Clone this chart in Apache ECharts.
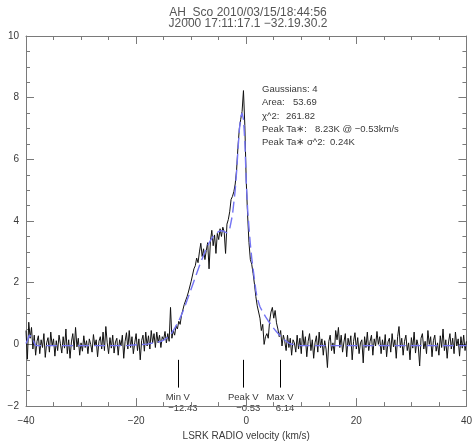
<!DOCTYPE html>
<html>
<head>
<meta charset="utf-8">
<script src="https://cdn.jsdelivr.net/npm/echarts@6/dist/echarts.min.js"></script>
<style>
  html, body { margin: 0; padding: 0; background: #fff; }
  #chart { width: 475px; height: 446px; }
</style>
</head>
<body>
<div id="chart"></div>
<script>
// Header lines above the spectrum
const titleLines = ['AH_Sco 2010/03/15/18:44:56', 'J2000 17:11:17.1 \u221232.19.30.2'];

// Axis ticks
const xTickValues = [-40, -20, 0, 20, 40];
const yTickValues = [-2, 0, 2, 4, 6, 8, 10];
const xAxisTitle = 'LSRK RADIO velocity (km/s)';

// Spectrum: antenna temperature (K) per 0.25 km/s channel, in three runs
const chanWidth = 0.25;
const leftStart = -40;
const leftBaseline = [
  0.45, -0.48, 0.72, 0.20, 0.55, -0.15, 0.30, -0.35, 0.10, 0.28, -0.30, 0.15,
  -0.10, 0.35, -0.42, 0.05, 0.22, -0.25, 0.40, -0.05, 0.18, -0.38, 0.12, -0.20,
  0.30, 0.02, -0.28, 0.25, -0.12, 0.50, -0.30, 0.15, -0.45, 0.08, 0.35, -0.18,
  0.55, -0.08, 0.20, -0.35, 0.05, -0.22, 0.28, -0.10, 0.12, -0.30, 0.18, 0.00,
  -0.25, 0.32, -0.05, 0.15, -0.40, 0.10, 0.25, -0.15, 0.40, -0.20, 0.58, 0.05,
  -0.30, 0.22, -0.12, 0.30, -0.28, 0.08, 0.20, -0.35, 0.15, -0.05, 0.30, -0.45,
  0.10, 0.38, -0.15, 0.45, -0.10, 0.25, -0.30, 0.05, 0.35, -0.20, 0.18, -0.50,
  0.12, 0.30, -0.22, 0.40, -0.05, 0.28, -0.15, 0.45, 0.05, 0.35, -0.10, 0.40
];
const lineStart = -16;
const lineProfile = [
  0.05, 0.30, -0.10, 0.25, 0.15, 0.42, 0.05, 0.35, 0.10, 1.20, 0.20, 0.45,
  0.30, 0.60, 0.50, 0.75, 0.65, 0.95, 0.90, 1.30, 1.25, 1.55, 1.70, 1.65,
  2.05, 2.10, 2.45, 2.55, 2.80, 2.65, 3.00, 3.28, 2.85, 3.10, 2.75, 3.05,
  3.30, 2.45, 3.35, 3.70, 3.20, 3.55, 2.95, 3.60, 3.40, 3.75, 3.50, 3.80,
  3.65, 2.95, 3.90, 4.05, 4.30, 4.70, 4.80, 4.95, 5.20, 5.65, 6.40, 7.00,
  7.30, 7.55, 8.23, 7.10, 5.30, 4.20, 3.30, 2.75, 2.60, 2.30, 1.95, 1.55,
  1.25, 1.20, 0.85, 0.45, 0.65, 0.00, 0.25, 0.35, 0.20, 0.75, 1.05, 1.20,
  0.85, 1.10, 0.70, 0.50, 0.25, 0.45, -0.05, 0.30, 0.10, -0.20, 0.30, -0.10,
  0.20, -0.35, 0.15, 0.05, -0.25
];
const rightStart = 9.25;
const rightBaseline = [
  0.30, -0.15, 0.20, -0.30, 0.45, -0.05, 0.25, -0.40, 0.10, 0.35, -0.20, 0.15,
  -0.45, 0.05, 0.28, -0.25, 0.40, -0.10, 0.18, -0.35, 0.12, -0.15, -0.75, 0.10,
  0.30, -0.20, 0.05, -0.30, 0.45, 0.15, 0.55, -0.10, 0.30, -0.25, 0.08, 0.35,
  -0.40, 0.20, -0.05, 0.28, -0.50, 0.10, 0.38, -0.15, 0.22, -0.30, 0.05, 0.15,
  -0.60, 0.25, -0.10, 0.40, -0.20, 0.10, 0.30, -0.35, 0.18, -0.05, 0.42, 0.00,
  0.25, -0.30, 0.15, -0.18, 0.32, -0.40, 0.08, 0.20, -0.25, 0.35, -0.08, 0.15,
  -0.45, 0.25, 0.58, -0.10, 0.20, -0.35, 0.10, 0.30, -0.20, 0.05, -0.50, 0.22,
  -0.12, 0.40, -0.28, 0.15, -0.05, -0.70, 0.20, 0.35, -0.15, 0.10, -0.30, 0.45,
  0.00, 0.25, -0.40, 0.12, 0.30, -0.22, 0.05, -0.35, 0.28, -0.10, 0.50, -0.20,
  0.15, -0.45, 0.08, 0.35, -0.15, 0.20, -0.30, 0.40, -0.05, 0.18, -0.38, 0.25,
  -0.12, 0.30, -0.20, 0.10
];

// Four-Gaussian fit, sampled velocities (km/s) and model temperature (K)
const fitVel = [
  -40, -39.7, -39.4, -39.1, -38.8, -38.5, -38.2, -30, -22, -18, -16, -15.5, -15,
  -14.5, -14, -13.5, -13, -12.5, -12, -11.5, -11, -10.5, -10, -9.5, -9, -8.5,
  -8, -7.5, -7, -6.5, -6, -5.5, -5, -4.5, -4, -3.5, -3, -2.5, -2, -1.75, -1.5,
  -1.25, -1, -0.75, -0.5, -0.25, 0, 0.25, 0.5, 0.75, 1, 1.25, 1.5, 1.75, 2,
  2.5, 3, 3.5, 4, 4.5, 5, 5.5, 6, 6.5, 7, 7.5, 8, 9, 10, 40
];
const fitVal = [
  0.03, 0.15, 0.30, 0.36, 0.22, 0.04, -0.04, -0.04, -0.04, 0.01, 0.08, 0.10, 0.14,
  0.20, 0.27, 0.38, 0.52, 0.68, 0.86, 1.07, 1.30, 1.55, 1.80, 2.05, 2.30, 2.55,
  2.78, 3.00, 3.20, 3.37, 3.50, 3.60, 3.66, 3.69, 3.66, 3.62, 3.75, 4.20, 5.00, 5.60, 6.30,
  6.95, 7.38, 7.50, 7.30, 6.60, 5.30, 4.40, 3.80, 3.25, 2.80, 2.45, 2.10, 1.75, 1.50,
  1.22, 1.05, 0.90, 0.76, 0.65, 0.52, 0.41, 0.31, 0.22, 0.14, 0.07, 0.02, -0.02, -0.04, -0.04
];

// Velocity markers
const markerNames = ['Min V', 'Peak V', 'Max V'];
const markerVel = [-12.43, -0.53, 6.14];
const markerText = ['\u221212.43', '\u22120.53', '6.14'];

// Fit summary
const summaryLabels = ['Gaussians: 4', 'Area:', '\u03c7^2:', 'Peak Ta\u2217:', 'Peak Ta\u2217 \u03c3^2:'];
const summaryValues = ['', '53.69', '261.82', '8.23K @ \u22120.53km/s', '0.24K'];

function channels(start, values) {
  return values.map((t, i) => [start + i * chanWidth, t]);
}
const spectrum = [].concat(
  channels(leftStart, leftBaseline),
  channels(lineStart, lineProfile),
  channels(rightStart, rightBaseline)
);
const fitCurve = fitVel.map((v, i) => [v, fitVal[i]]);

const FONT = 'Liberation Sans';
const TEXT = '#3a3a3a';
const AXIS = '#7a7a7a';
const fmt = v => (v < 0 ? '\u2212' : '') + Math.abs(v);

const chart = echarts.init(document.getElementById('chart'), null, { renderer: 'canvas' });

function axisBase(showLabels, pos) {
  return {
    type: 'value',
    position: pos,
    axisLine: { show: true, onZero: false, lineStyle: { color: AXIS, width: 1 } },
    axisTick: { show: true, inside: true, length: 8, lineStyle: { color: AXIS } },
    minorTick: { show: true, splitNumber: 4, length: 4, lineStyle: { color: AXIS } },
    splitLine: { show: false },
    minorSplitLine: { show: false },
    axisLabel: {
      show: showLabels, formatter: fmt, color: TEXT,
      fontFamily: FONT, fontSize: 10
    }
  };
}

const xMin = xTickValues[0], xMax = xTickValues[xTickValues.length - 1];
const yMin = yTickValues[0], yMax = yTickValues[yTickValues.length - 1];

const xBottom = Object.assign(axisBase(true, 'bottom'), {
  min: xMin, max: xMax, interval: xTickValues[1] - xTickValues[0],
  name: xAxisTitle, nameLocation: 'middle', nameGap: 24,
  nameTextStyle: { color: TEXT, fontFamily: FONT, fontSize: 10 }
});
xBottom.axisLabel.margin = 10;
const xTop = Object.assign(axisBase(false, 'top'), {
  min: xMin, max: xMax, interval: xTickValues[1] - xTickValues[0]
});
const yLeft = Object.assign(axisBase(true, 'left'), {
  min: yMin, max: yMax, interval: yTickValues[1] - yTickValues[0]
});
yLeft.axisLabel.margin = 7;
const yRight = Object.assign(axisBase(false, 'right'), {
  min: yMin, max: yMax, interval: yTickValues[1] - yTickValues[0]
});

chart.setOption({
  animation: false,
  backgroundColor: '#fff',
  grid: { left: 26, right: 1, top: 36, bottom: 32, containLabel: false },
  xAxis: [xBottom, xTop],
  yAxis: [yLeft, yRight],
  series: [
    {
      name: 'spectrum', type: 'line', data: spectrum,
      xAxisIndex: 0, yAxisIndex: 0,
      showSymbol: false, symbol: 'none', z: 2,
      lineStyle: { color: '#111', width: 1 },
      markLine: {
        silent: true, symbol: ['none', 'none'],
        label: { show: false },
        lineStyle: { color: '#000', width: 1, type: 'solid' },
        data: markerVel.map(v => [{ coord: [v, -0.5] }, { coord: [v, -1.4] }])
      }
    },
    {
      name: 'fit', type: 'line', data: fitCurve,
      xAxisIndex: 0, yAxisIndex: 0,
      showSymbol: false, symbol: 'none', z: 3,
      lineStyle: { color: '#7474f4', width: 1.4, type: [11, 5] }
    }
  ]
});

// Text overlays positioned from the axes
const graphics = [];
titleLines.forEach((t, i) => {
  graphics.push({
    type: 'text', x: 248, y: 13 + i * 11,
    style: { text: t, fill: '#555', font: '12px "' + FONT + '"', align: 'center', verticalAlign: 'middle' }
  });
});
const yName = chart.convertToPixel({ yAxisIndex: 0 }, -1.72);
const yVal = chart.convertToPixel({ yAxisIndex: 0 }, -2.06);
markerVel.forEach((v, i) => {
  const px = chart.convertToPixel({ xAxisIndex: 0 }, v);
  graphics.push({
    type: 'text', x: px, y: yName,
    style: { text: markerNames[i], fill: TEXT, font: '9.5px "' + FONT + '"', align: 'center', verticalAlign: 'middle' }
  });
  graphics.push({
    type: 'text', x: px + 5, y: yVal,
    style: { text: markerText[i], fill: TEXT, font: '9.5px "' + FONT + '"', align: 'center', verticalAlign: 'middle' }
  });
});
const rowY = [89, 102, 116, 129, 142];
const valueX = [0, 293, 286, 315, 330];
summaryLabels.forEach((t, i) => {
  graphics.push({
    type: 'text', x: 262, y: rowY[i],
    style: { text: t, fill: TEXT, font: '9.5px "' + FONT + '"', verticalAlign: 'middle' }
  });
  if (summaryValues[i]) {
    graphics.push({
      type: 'text', x: valueX[i], y: rowY[i],
      style: { text: summaryValues[i], fill: TEXT, font: '9.5px "' + FONT + '"', verticalAlign: 'middle' }
    });
  }
});
chart.setOption({ graphic: graphics });
</script>
</body>
</html>
